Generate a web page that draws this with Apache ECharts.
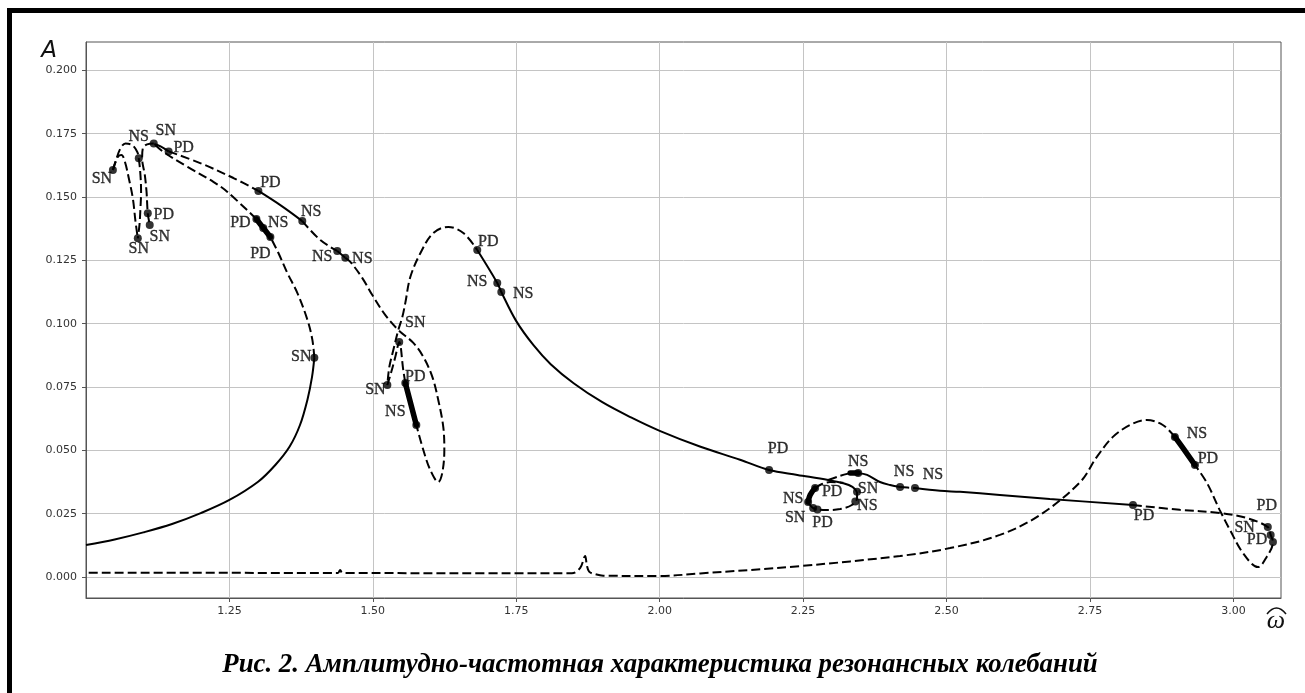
<!DOCTYPE html>
<html><head><meta charset="utf-8">
<script src="https://cdn.jsdelivr.net/npm/echarts@6/dist/echarts.min.js"></script>
<style>html,body{margin:0;padding:0;background:#fff;}#c{width:1305px;height:693px;}</style>
</head><body><div id="c"></div>
<script>
// ---- tick labels ----
const xTickValues = [1.25, 1.50, 1.75, 2.00, 2.25, 2.50, 2.75, 3.00];
const yTickValues = [0, 0.025, 0.05, 0.075, 0.1, 0.125, 0.15, 0.175, 0.2];

// ---- curve branches [omega, A] ----
const lowerStable = [[1.0,0.0126],[1.05,0.0148],[1.10,0.0176],[1.15,0.0209],[1.20,0.0252],[1.25,0.0304],[1.30,0.0376],[1.33,0.0442],[1.355,0.0515],[1.373,0.0600],[1.386,0.0700],[1.394,0.0790],[1.398,0.0865]];
const lowerUnstable = [[1.398,0.0865],[1.3946,0.0936],[1.386,0.1015],[1.3685,0.1121],[1.351,0.1200],[1.3354,0.1279],[1.3214,0.1342]];
const lowerThick = [[1.3214,0.1342],[1.309,0.1378],[1.297,0.1413]];
const lowerUnstableTop = [[1.297,0.1413],[1.2465,0.1520],[1.222,0.1560],[1.177,0.1619],[1.135,0.1678],[1.119,0.1709]];
const topStableA = [[1.119,0.1709],[1.13,0.1700],[1.144,0.1680]];
const topUnstableA = [[1.144,0.1680],[1.199,0.1634],[1.257,0.1575],[1.3005,0.1524]];
const topStableB = [[1.3005,0.1524],[1.34,0.1466],[1.377,0.1405]];
const topUnstableB = [[1.377,0.1405],[1.4085,0.1330],[1.438,0.1287]];
const topStableC = [[1.438,0.1287],[1.452,0.1260]];
const midUnstableA = [[1.452,0.1260],[1.4608,0.1244],[1.4817,0.1180],[1.4991,0.1113],[1.5218,0.1034],[1.5444,0.0975],[1.5706,0.0924],[1.588,0.0869],[1.6037,0.0790],[1.614,0.0699],[1.6228,0.0592],[1.6246,0.0501],[1.621,0.0411],[1.614,0.0375],[1.6002,0.0422],[1.588,0.0501],[1.5758,0.0600]];
const midThick = [[1.5758,0.0600],[1.5566,0.0766]];
const midUnstableB = [[1.5566,0.0766],[1.553,0.0817],[1.546,0.0928],[1.5392,0.0869],[1.5322,0.0810],[1.5253,0.0758],[1.5287,0.0829],[1.5357,0.0896],[1.5444,0.0975],[1.5514,0.1026],[1.5566,0.1082],[1.5653,0.1184],[1.583,0.1279],[1.6054,0.1358],[1.6315,0.1382],[1.6577,0.1358],[1.682,0.1291]];
const mainStable = [[1.682,0.1291],[1.7169,0.1161],[1.7239,0.1125],[1.75,0.1010],[1.78,0.0915],[1.81,0.0840],[1.85,0.0765],[1.90,0.0690],[1.95,0.0630],[2.00,0.0577],[2.07,0.0515],[2.14,0.0463],[2.1907,0.0422],[2.24,0.0403],[2.2936,0.0383],[2.32,0.0370],[2.336,0.0356],[2.344,0.0336]];
const loopUnstableA = [[2.344,0.0336],[2.344,0.0312],[2.335,0.0284],[2.3145,0.0268],[2.292,0.0264],[2.2675,0.0272],[2.2587,0.0296]];
const loopThick = [[2.2587,0.0296],[2.2622,0.0324],[2.2709,0.0351]];
const loopUnstableB = [[2.2709,0.0351],[2.283,0.0367],[2.297,0.0375],[2.32,0.0372]];
const rightUnstableA = [[2.2936,0.0383],[2.3145,0.0399],[2.332,0.0410]];
const rightThickA = [[2.332,0.0410],[2.346,0.0410]];
const rightStableA = [[2.346,0.0410],[2.3615,0.0403],[2.384,0.0375],[2.4016,0.0363],[2.419,0.0355]];
const rightUnstableB = [[2.419,0.0355],[2.445,0.0351]];
const rightStableB = [[2.445,0.0351],[2.4887,0.0340],[2.5235,0.0336],[2.593,0.0324],[2.68,0.0308],[2.825,0.0284]];
const rightUnstableC = [[2.825,0.0284],[2.9067,0.0265],[2.976,0.0253],[3.023,0.0233],[3.06,0.0197],[3.065,0.0166],[3.069,0.0138],[3.058,0.0079],[3.0427,0.0039],[3.0166,0.0095],[2.994,0.0186],[2.976,0.0265],[2.954,0.0371],[2.933,0.0442]];
const rightThickB = [[2.933,0.0442],[2.915,0.0500],[2.898,0.0553]];
const rightUnstableD = [[2.898,0.0553],[2.877,0.0600],[2.849,0.0620],[2.82,0.0600],[2.79,0.0553],[2.762,0.0474],[2.733,0.0375],[2.663,0.0245],[2.593,0.0166],[2.506,0.0114],[2.419,0.0083],[2.2448,0.0043],[2.0706,0.0014],[2.0,0.0004],[1.9016,0.0005],[1.8876,0.0011],[1.877,0.0021],[1.873,0.0047],[1.870,0.0083],[1.8615,0.0036],[1.847,0.0015],[1.70,0.0015],[1.447,0.0016],[1.443,0.0028],[1.439,0.0016],[1.0,0.0017]];
const leftLoopOuter = [[1.0469,0.1607],[1.0514,0.1640],[1.0601,0.1692],[1.0688,0.1711],[1.0805,0.1705],[1.0892,0.1679],[1.092,0.1653],[1.0949,0.1587],[1.096,0.1521],[1.0949,0.1455],[1.0932,0.1390],[1.0903,0.1337]];
const leftLoopInner = [[1.0469,0.1607],[1.0557,0.1659],[1.0618,0.1666],[1.0677,0.1640],[1.0746,0.1574],[1.0816,0.1495],[1.0863,0.1403],[1.0903,0.1337]];
const leftLoopRight = [[1.1181,0.1711],[1.1065,0.1708],[1.099,0.1692],[1.0978,0.1653],[1.1025,0.1587],[1.1055,0.1521],[1.1077,0.1436],[1.1111,0.1390]];

// ---- bifurcation points ----
const ptX = [1.0469,1.092,1.1181,1.144,1.1077,1.1111,1.0903,1.3005,1.377,1.297,1.309,1.3214,1.438,1.452,1.398,1.546,1.5253,1.5566,1.5758,1.682,1.7169,1.7239,2.1907,2.346,2.419,2.445,2.344,2.341,2.2709,2.2587,2.2675,2.275,2.898,2.933,2.825,3.06,3.065,3.069];
const ptY = [0.1607,0.1653,0.1711,0.1680,0.1436,0.1390,0.1337,0.1524,0.1405,0.1413,0.1378,0.1342,0.1287,0.1260,0.0865,0.0928,0.0758,0.0766,0.0600,0.1291,0.1161,0.1125,0.0422,0.0410,0.0355,0.0351,0.0336,0.0298,0.0351,0.0296,0.0272,0.0266,0.0553,0.0442,0.0284,0.0197,0.0166,0.0138];
const ptName = ['SN','NS','SN','PD','PD','SN','SN','PD','NS','PD','NS','PD','NS','NS','SN','SN','SN','PD','NS','PD','NS','NS','PD','NS','NS','NS','SN','NS','PD','NS','SN','PD','NS','PD','PD','PD','SN','PD'];

// ---- styling (label offsets in px, line kinds) ----
const labelOffsets = [[-11,9],[0,-21],[12,-13],[15,-4],[16,2],[10,12],[1,10],[12,-8],[9,-9],[-16,4],[15,-5],[-10,17],[-15,6],[17,1],[-13,-1],[16,-19],[-12,5],[10,-6],[-21,-13],[11,-8],[-20,-1],[22,2],[9,-21],[0,-11],[4,-15],[18,-13],[11,-3],[12,4],[17,4],[-15,-3],[-18,10],[5,13],[22,-3],[13,-6],[11,11],[-1,-21],[-26,-7],[-16,-2]];
const segments = [
  [lowerStable,'solid'],[lowerUnstable,'dashed'],[lowerThick,'thick'],[lowerUnstableTop,'dashed'],
  [topStableA,'solid'],[topUnstableA,'dashed'],[topStableB,'solid'],[topUnstableB,'dashed'],[topStableC,'solid'],
  [midUnstableA,'dashed'],[midThick,'thick'],[midUnstableB,'dashed'],[mainStable,'solid'],
  [loopUnstableA,'dashed'],[loopThick,'thick'],[loopUnstableB,'dashed'],
  [rightUnstableA,'dashed'],[rightThickA,'thick'],[rightStableA,'solid'],[rightUnstableB,'dashed'],[rightStableB,'solid'],
  [rightUnstableC,'dashed'],[rightThickB,'thick'],[rightUnstableD,'dashed'],
  [leftLoopOuter,'dashed'],[leftLoopInner,'dashed'],[leftLoopRight,'dashed']
];
const lineStyles = {
  solid: {color:'#000', width:2, type:'solid'},
  dashed: {color:'#000', width:2, type:[9,4]},
  thick: {color:'#000', width:5.5, type:'solid', cap:'round'}
};

const series = segments.map(([d, kind]) => ({
  type:'line', data:d, showSymbol:false, symbol:'none', smooth:0.35,
  lineStyle: lineStyles[kind], silent:true, z: kind==='thick'?3:2
}));
series.push({
  type:'scatter', symbolSize:8, itemStyle:{color:'#000'}, z:5, silent:true,
  data: ptX.map((x,i)=>({value:[x,ptY[i]], name:ptName[i], label:{offset:labelOffsets[i]}})),
  label:{show:true, position:'inside', formatter:'{b}', color:'#000', textBorderColor:'#000', textBorderWidth:0.35,
         fontFamily:'"Liberation Serif", serif', fontSize:16}
});

const chart = echarts.init(document.getElementById('c'), null, {renderer:'canvas'});
chart.setOption({
  animation:false,
  backgroundColor:'#fff',
  grid:{left:86, right:24, top:42, bottom:95, show:true, borderColor:'#555', borderWidth:1, backgroundColor:'#fff'},
  xAxis:{type:'value', min:1.0, max:3.083,
    axisLine:{show:true, onZero:false, lineStyle:{color:'#555', width:1}},
    axisTick:{show:true, length:4, customValues:xTickValues, lineStyle:{color:'#555'}},
    axisLabel:{customValues:xTickValues, formatter:v=>v.toFixed(2), color:'#333', fontFamily:'"DejaVu Sans"', fontSize:11, margin:8},
    splitLine:{show:true, lineStyle:{color:'#c4c4c4', width:1}}
  },
  yAxis:{type:'value', min:-0.0083, max:0.2112,
    axisLine:{show:true, onZero:false, lineStyle:{color:'#555', width:1}},
    axisTick:{show:true, length:4, customValues:yTickValues, lineStyle:{color:'#555'}},
    axisLabel:{customValues:yTickValues, formatter:v=>v.toFixed(3), color:'#333', fontFamily:'"DejaVu Sans"', fontSize:11, margin:9},
    splitLine:{show:true, lineStyle:{color:'#c4c4c4', width:1}}
  },
  graphic:[
    {type:'rect', shape:{x:7, y:8, width:1298, height:5}, style:{fill:'#000'}},
    {type:'rect', shape:{x:7, y:8, width:5, height:685}, style:{fill:'#000'}},
    {type:'text', x:49, y:51, style:{text:'A', font:'italic 23px "DejaVu Sans"', fill:'#111', align:'center', verticalAlign:'middle'}},
    {type:'text', x:1276, y:621, style:{text:'ω', font:'italic 26px "Liberation Serif"', fill:'#111', align:'center', verticalAlign:'middle'}},
    {type:'bezierCurve', shape:{x1:1267, y1:614, x2:1286, y2:614, cpx1:1276.5, cpy1:602}, style:{stroke:'#111', lineWidth:1.5, fill:null}},
    {type:'text', x:660, y:665, style:{text:'Рис. 2. Амплитудно-частотная характеристика резонансных колебаний', font:'italic bold 26.8px "Liberation Serif"', fill:'#000', align:'center', verticalAlign:'middle'}}
  ],
  series: series
});
</script></body></html>
